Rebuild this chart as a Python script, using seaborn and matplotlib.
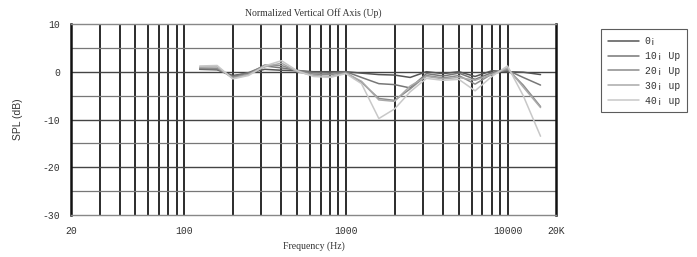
import numpy as np
import pandas as pd
import matplotlib
matplotlib.use("Agg")
import matplotlib.pyplot as plt
import seaborn as sns
from matplotlib.ticker import FixedLocator, NullFormatter

# 1/3 octave points (Hz)
freqs = [125, 160, 200, 250, 315, 400, 500, 630, 800, 1000, 1250, 1600,
         2000, 2500, 3150, 4000, 5000, 6300, 8000, 10000, 12500, 16000]

spl_0 = [0.5, 0.4, -0.8, -0.3, 0.5, 0.3, 0.2, 0.0, 0.0, 0.0, -0.3, -0.6,
         -0.7, -1.2, 0.0, -0.4, 0.0, -1.0, 0.2, 0.0, -0.1, -0.6]
spl_10 = [0.6, 0.5, -1.0, -0.2, 1.2, 0.8, 0.3, -0.2, -0.3, 0.0, -1.2, -2.5,
          -2.7, -3.4, -0.4, -0.9, -0.3, -1.6, -0.2, 0.3, -1.2, -2.8]
spl_20 = [0.8, 0.7, -1.2, -0.5, 1.4, 1.3, 0.2, -0.5, -0.6, -0.2, -2.2, -5.6,
          -6.0, -3.6, -0.8, -1.3, -0.8, -2.6, -0.5, 0.5, -2.8, -7.3]
spl_30 = [1.0, 1.0, -1.4, -0.6, 1.0, 1.8, 0.0, -0.8, -1.0, -0.3, -2.0, -5.9,
          -6.2, -3.0, -1.0, -1.5, -1.2, -1.8, -0.6, 0.8, -3.2, -7.5]
spl_40 = [1.2, 1.3, -1.5, -0.8, 1.2, 2.3, 0.2, -1.0, -1.2, -0.4, -2.5, -9.8,
          -7.8, -4.2, -1.4, -1.8, -1.6, -4.0, -1.0, 1.2, -5.0, -13.5]

labels = ["0¡", "10¡ Up", "20¡ Up", "30¡ up", "40¡ up"]
colors = ["#555555", "#777777", "#8c8c8c", "#aaaaaa", "#c8c8c8"]

xtick_pos = [20, 100, 1000, 10000, 20000]
xtick_labels = ["20", "100", "1000", "10000", "20K"]
ytick_pos = [10, 0, -10, -20, -30]

rows = []
for lab, vals in zip(labels, [spl_0, spl_10, spl_20, spl_30, spl_40]):
    for f, v in zip(freqs, vals):
        rows.append({"freq": f, "spl": v, "angle": lab})
df = pd.DataFrame(rows)

sns.set_style("white")
plt.rcParams["font.family"] = ["Liberation Mono", "DejaVu Sans"]
plt.rcParams["axes.unicode_minus"] = False

fig = plt.figure(figsize=(6.97, 2.57), dpi=100)
ax = fig.add_axes([0.102, 0.163, 0.696, 0.744])

ax.set_xscale("log")
ax.set_xlim(20, 20000)
ax.set_ylim(-30, 10)

# grid
minor_x = [f * d for d in [10, 100, 1000] for f in range(2, 10)] + [30, 40, 50, 60, 70, 80, 90]
minor_x = sorted(set(x for x in minor_x if 20 < x < 20000))
for x in minor_x + [100, 1000, 10000]:
    ax.axvline(x, color="#1a1a1a", lw=1.3, zorder=1)
for y in [5, -5, -15, -25]:
    ax.axhline(y, color="#777777", lw=0.9, zorder=1)
for y in [0, -10, -20]:
    ax.axhline(y, color="#444444", lw=1.0, zorder=1)

sns.lineplot(data=df, x="freq", y="spl", hue="angle", palette=colors,
             hue_order=labels, lw=1.1, ax=ax, zorder=3, legend=False)

ax.xaxis.set_major_locator(FixedLocator(xtick_pos))
ax.set_xticklabels(xtick_labels)
ax.xaxis.set_minor_formatter(NullFormatter())
ax.set_yticks(ytick_pos)
ax.tick_params(axis="both", labelsize=7, colors="#333333", length=0, pad=8)
for spine in ["left", "right"]:
    ax.spines[spine].set_color("#111111")
    ax.spines[spine].set_linewidth(1.8)
for spine in ["top", "bottom"]:
    ax.spines[spine].set_color("#888888")
    ax.spines[spine].set_linewidth(1.0)

ax.set_xlabel("Frequency (Hz)", fontsize=7, family=["Liberation Serif"], color="#333333")
ax.set_ylabel("SPL (dB)", fontsize=7.5, family=["Liberation Sans"], color="#333333")
ax.yaxis.set_label_coords(-0.1, 0.5)
ax.set_title("Normalized Vertical Off Axis (Up)", fontsize=7, family=["Liberation Serif"],
             color="#333333", pad=6)

handles = [plt.Line2D([], [], color=c, lw=1.1) for c in colors]
leg = fig.legend(handles, labels, loc="upper left", bbox_to_anchor=(0.855, 0.905),
                 frameon=True, fancybox=False, fontsize=7, handlelength=3.2,
                 labelspacing=0.5, borderpad=0.7, handletextpad=0.6)
leg.get_frame().set_edgecolor("#333333")
leg.get_frame().set_linewidth(0.8)
for t in leg.get_texts():
    t.set_color("#333333")

fig.savefig("out.png", dpi=100)
